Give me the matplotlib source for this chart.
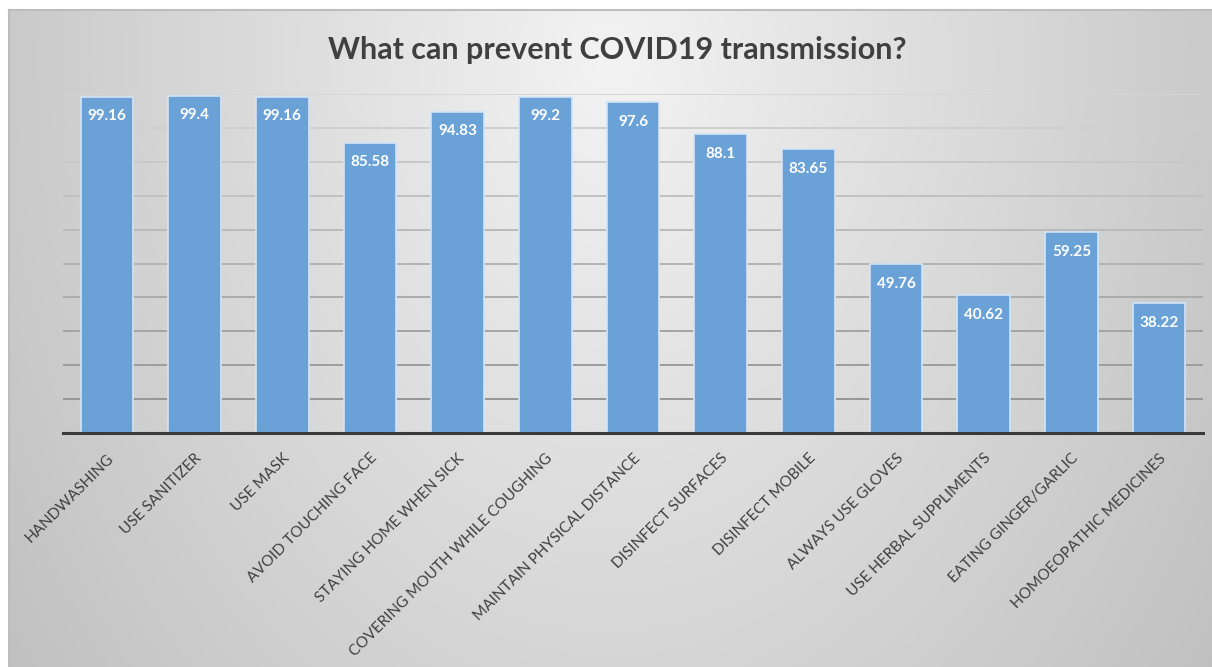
import numpy as np
import matplotlib
matplotlib.use("Agg")
import matplotlib.pyplot as plt

plt.rcParams['font.family'] = ['Lato', 'DejaVu Sans']

categories = [
    "HANDWASHING", "USE SANITIZER", "USE MASK", "AVOID TOUCHING FACE",
    "STAYING HOME WHEN SICK", "COVERING MOUTH WHILE COUGHING",
    "MAINTAIN PHYSICAL DISTANCE", "DISINFECT SURFACES", "DISINFECT MOBILE",
    "ALWAYS USE GLOVES", "USE HERBAL SUPPLIMENTS", "EATING GINGER/GARLIC",
    "HOMOEOPATHIC MEDICINES",
]
values = [99.16, 99.4, 99.16, 85.58, 94.83, 99.2, 97.6, 88.1, 83.65,
          49.76, 40.62, 59.25, 38.22]
grid_ticks = list(range(0, 101, 10))

W, H = 1212, 667
fig = plt.figure(figsize=(W / 100, H / 100), dpi=100)
fig.patch.set_facecolor("white")

# radial grey backdrop, brightest near the title
bg = fig.add_axes([9 / W, 0, 1 - 9 / W, 1 - 10 / H])
yy, xx = np.mgrid[10:H, 9:W]
d = np.sqrt(((xx - 610) / 650.0) ** 2 + ((yy - 60) / 900.0) ** 2)
shade = np.clip(243 - 44 * d, 190, 245) / 255.0
bg.imshow(np.dstack([shade] * 3), aspect="auto", interpolation="bilinear",
          extent=[0, 1, 0, 1])
bg.set_xticks([])
bg.set_yticks([])
for side in ("right", "bottom"):
    bg.spines[side].set_visible(False)
for side in ("top", "left"):
    bg.spines[side].set_color("#bdbdbd")
    bg.spines[side].set_linewidth(1.5)

ax = fig.add_axes([63 / W, 1 - 433 / H, (1203 - 63) / W, (433 - 94) / H])
ax.set_facecolor("none")

x = np.arange(len(categories))
bars = ax.bar(x, values, width=0.6, color="#6aa2d8", edgecolor="#d3e5f6",
              linewidth=1.2, zorder=3)

for xi, v in zip(x, values):
    ax.annotate(f"{v:g}", (xi, v), xytext=(0, -14), textcoords="offset points",
                ha="center", va="center", color="white", fontsize=11,
                fontweight="bold", zorder=4)

ax.set_xlim(-0.5, len(categories) - 0.5)
ax.set_ylim(0, 100)
ax.set_yticks(grid_ticks)
ax.yaxis.grid(True, linewidth=1.4, zorder=1)
ax.set_axisbelow(True)
gl = ax.get_ygridlines()
for tick, line in zip(grid_ticks, gl):
    g = 0.56 + 0.28 * (tick / 100.0)
    line.set_color((g, g, g))
ax.tick_params(axis="y", left=False, labelleft=False)

ax.set_xticks(x)
ax.set_xticklabels(categories, rotation=45, ha="right", va="top",
                   rotation_mode="anchor", fontsize=11, color="#404040")
ax.tick_params(axis="x", length=0, pad=13)

for side in ("left", "right", "top"):
    ax.spines[side].set_visible(False)
ax.spines["bottom"].set_color("#3a3a3a")
ax.spines["bottom"].set_linewidth(2.2)
ax.spines["bottom"].set_zorder(5)

fig.text(617 / W, 1 - 50 / H, "What can prevent COVID19 transmission?",
         ha="center", va="center", fontsize=22, fontweight="bold",
         color="#404040")

fig.savefig("out.png", dpi=100)
